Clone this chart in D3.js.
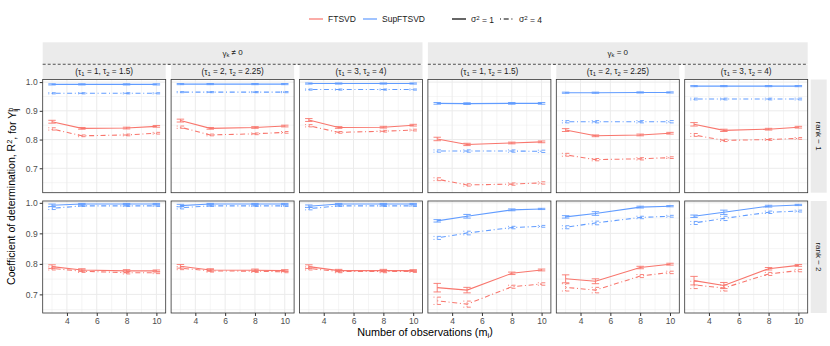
<!DOCTYPE html>
<html>
<head>
<meta charset="utf-8">
<script src="https://cdn.jsdelivr.net/npm/d3@7"></script>
<style>
body { margin: 0; background: #fff; }
svg text { font-family: "Liberation Sans", Arial, sans-serif; }
</style>
</head>
<body>
<div id="chart"></div>
<script>
// ---- data ----
var mValues = [3, 5, 8, 10];
var methods = ["FTSVD", "SupFTSVD"];
var sigmaLabels = ["σ^{2} = 1", "σ^{2} = 4"];
var gammaLabels = ["γ_{k} ≠ 0", "γ_{k} = 0"];
var tauLabels = ["(τ_{1} = 1, τ_{2} = 1.5)", "(τ_{1} = 2, τ_{2} = 2.25)", "(τ_{1} = 3, τ_{2} = 4)"];
var rankLabels = ["rank − 1", "rank − 2"];
var yTicks = [0.7, 0.8, 0.9, 1.0];
var xTicks = [4, 6, 8, 10];

// one row per panel, left to right (gamma != 0: tau 1..3, then gamma = 0: tau 1..3)
var ftsvdS1Rank1 = [[0.862,0.839,0.840,0.846],[0.866,0.839,0.842,0.847],[0.868,0.842,0.843,0.850],
                    [0.802,0.783,0.788,0.792],[0.833,0.813,0.816,0.822],[0.853,0.832,0.836,0.843]];
var ftsvdS4Rank1 = [[0.837,0.813,0.816,0.822],[0.843,0.816,0.820,0.825],[0.848,0.825,0.829,0.833],
                    [0.662,0.642,0.645,0.649],[0.747,0.730,0.733,0.737],[0.816,0.797,0.800,0.804]];
var supS1Rank1 = [[0.992,0.992,0.992,0.992],[0.993,0.993,0.993,0.993],[0.995,0.995,0.995,0.995],
                  [0.926,0.925,0.926,0.926],[0.963,0.963,0.964,0.964],[0.986,0.986,0.986,0.986]];
var supS4Rank1 = [[0.961,0.961,0.961,0.961],[0.965,0.965,0.965,0.965],[0.974,0.974,0.974,0.974],
                  [0.760,0.760,0.760,0.759],[0.862,0.862,0.862,0.862],[0.941,0.941,0.941,0.941]];

var ftsvdS1Rank2 = [[0.791,0.780,0.777,0.777],[0.792,0.780,0.779,0.778],[0.791,0.778,0.778,0.778],
                    [0.722,0.714,0.769,0.780],[0.751,0.743,0.788,0.799],[0.745,0.729,0.784,0.795]];
var ftsvdS4Rank2 = [[0.785,0.776,0.771,0.771],[0.786,0.777,0.776,0.774],[0.785,0.775,0.775,0.775],
                    [0.679,0.668,0.725,0.734],[0.723,0.714,0.760,0.772],[0.731,0.721,0.767,0.778]];
var supS1Rank2 = [[0.992,0.996,0.996,0.996],[0.991,0.996,0.996,0.996],[0.989,0.996,0.996,0.996],
                  [0.941,0.956,0.977,0.980],[0.954,0.965,0.986,0.989],[0.956,0.969,0.989,0.993]];
var supS4Rank2 = [[0.982,0.990,0.990,0.990],[0.984,0.990,0.990,0.990],[0.981,0.990,0.990,0.990],
                  [0.885,0.901,0.919,0.923],[0.920,0.934,0.952,0.956],[0.934,0.949,0.969,0.973]];

// error bar half widths, same layout
var ftsvdS1ErrRank1 = [[0.005,0.003,0.003,0.003],[0.005,0.003,0.003,0.003],[0.005,0.003,0.003,0.003],
                       [0.006,0.004,0.003,0.003],[0.005,0.003,0.003,0.003],[0.006,0.004,0.003,0.003]];
var ftsvdS4ErrRank1 = [[0.004,0.003,0.003,0.003],[0.004,0.003,0.003,0.003],[0.004,0.003,0.003,0.003],
                       [0.005,0.004,0.004,0.004],[0.005,0.004,0.004,0.003],[0.005,0.004,0.003,0.003]];
var supS1ErrRank1 = [[0.002,0.002,0.002,0.002],[0.002,0.002,0.002,0.002],[0.002,0.002,0.002,0.002],
                     [0.003,0.003,0.003,0.003],[0.002,0.002,0.002,0.002],[0.002,0.002,0.002,0.002]];
var supS4ErrRank1 = [[0.002,0.002,0.002,0.002],[0.002,0.002,0.002,0.002],[0.002,0.002,0.002,0.002],
                     [0.004,0.004,0.004,0.004],[0.004,0.004,0.004,0.004],[0.003,0.003,0.003,0.003]];

var ftsvdS1ErrRank2 = [[0.006,0.004,0.004,0.003],[0.006,0.004,0.004,0.003],[0.006,0.004,0.004,0.003],
                       [0.014,0.009,0.004,0.003],[0.013,0.008,0.004,0.003],[0.014,0.010,0.004,0.003]];
var ftsvdS4ErrRank2 = [[0.005,0.004,0.004,0.003],[0.005,0.004,0.004,0.003],[0.005,0.004,0.004,0.003],
                       [0.012,0.010,0.005,0.004],[0.012,0.009,0.005,0.004],[0.012,0.010,0.005,0.004]];
var supS1ErrRank2 = [[0.004,0.002,0.002,0.002],[0.004,0.002,0.002,0.002],[0.004,0.002,0.002,0.002],
                     [0.004,0.006,0.003,0.002],[0.004,0.006,0.003,0.002],[0.004,0.007,0.003,0.002]];
var supS4ErrRank2 = [[0.004,0.002,0.002,0.002],[0.004,0.002,0.002,0.002],[0.004,0.002,0.002,0.002],
                     [0.005,0.006,0.004,0.003],[0.005,0.006,0.004,0.003],[0.005,0.007,0.004,0.003]];

var series = [
  {method: "FTSVD", sigma: 1, vals: [ftsvdS1Rank1, ftsvdS1Rank2], errs: [ftsvdS1ErrRank1, ftsvdS1ErrRank2]},
  {method: "FTSVD", sigma: 4, vals: [ftsvdS4Rank1, ftsvdS4Rank2], errs: [ftsvdS4ErrRank1, ftsvdS4ErrRank2]},
  {method: "SupFTSVD", sigma: 1, vals: [supS1Rank1, supS1Rank2], errs: [supS1ErrRank1, supS1ErrRank2]},
  {method: "SupFTSVD", sigma: 4, vals: [supS4Rank1, supS4Rank2], errs: [supS4ErrRank1, supS4ErrRank2]}
];

// ---- layout ----
var width = 830, height = 346;
var panelW = 123, colStep = 128.4, left0 = 42.7;
var rows = [{top: 79.5, bottom: 192.7, domain: [0.615, 1.009]},
            {top: 201, bottom: 313, domain: [0.639, 1.006]}];
var color = d3.scaleOrdinal().domain(methods).range(["#F8766D", "#619CFF"]);
var dash = {1: null, 4: "1,2.7,5,2.7"};
var txtCol = "#4D4D4D";

var svg = d3.select("#chart").append("svg")
  .attr("width", width).attr("height", height);

// little helper: "a_{b}" -> subscript, "a^{b}" -> superscript
function richText(sel, str) {
  var parts = [], re = /([_^])\{([^}]*)\}/g, last = 0, m;
  while ((m = re.exec(str)) !== null) {
    if (m.index > last) parts.push({t: str.slice(last, m.index), k: ""});
    parts.push({t: m[2], k: m[1]});
    last = re.lastIndex;
  }
  if (last < str.length) parts.push({t: str.slice(last), k: ""});
  var cur = 0, prev = null;
  parts.forEach(function(p) {
    var off = p.k === "^" ? -0.38 : p.k === "_" ? 0.25 : 0;
    var ts = sel.append("tspan").text(p.t)
      .attr("dy", (off - cur) + "em");
    if (p.k) ts.style("font-size", "72%");
    // stack sub right under a sup
    if (p.k === "_" && prev && prev.k === "^") {
      ts.attr("dx", -prev.node.getComputedTextLength());
    }
    cur = off;
    prev = {k: p.k, node: ts.node()};
  });
}

// ---- legend ----
var lg = svg.append("g").attr("transform", "translate(0,19)");
var legItems = [
  {x: 309, col: color("FTSVD"), d: null, label: "FTSVD"},
  {x: 363, col: color("SupFTSVD"), d: null, label: "SupFTSVD"},
  {x: 452, col: "#000", d: null, label: sigmaLabels[0]},
  {x: 500, col: "#000", d: dash[4], label: sigmaLabels[1]}
];
legItems.forEach(function(it) {
  lg.append("line").attr("x1", it.x).attr("x2", it.x + 14).attr("y1", 0).attr("y2", 0)
    .attr("stroke", it.col).attr("stroke-width", 1.2).attr("stroke-dasharray", it.d);
  var t = lg.append("text").attr("x", it.x + 19).attr("y", 3)
    .style("font-size", "8.5px").attr("fill", "#1A1A1A");
  richText(t, it.label);
});

// ---- top strips (gamma groups) ----
for (var g = 0; g < 2; g++) {
  var gx0 = left0 + g * 3 * colStep, gx1 = gx0 + 2 * colStep + panelW;
  svg.append("rect").attr("x", gx0).attr("y", 42.3).attr("width", gx1 - gx0).attr("height", 22)
    .attr("fill", "#EBEBEB");
  svg.append("line").attr("x1", gx0).attr("x2", gx1).attr("y1", 64.3).attr("y2", 64.3)
    .attr("stroke", "#000").attr("stroke-width", 0.8).attr("stroke-dasharray", "3,2");
  var gt = svg.append("text").attr("x", (gx0 + gx1) / 2).attr("y", 56)
    .attr("text-anchor", "middle").style("font-size", "8px").attr("fill", "#1A1A1A");
  richText(gt, gammaLabels[g]);
}

// ---- panels ----
for (var r = 0; r < 2; r++) {
  var row = rows[r];
  var y = d3.scaleLinear().domain(row.domain).range([row.bottom, row.top]);

  for (var c = 0; c < 6; c++) {
    var px = left0 + c * colStep;
    var x = d3.scaleLinear().domain([2.375, 10.625]).range([px, px + panelW]);

    if (r === 0) {
      svg.append("rect").attr("x", px).attr("y", 64.8).attr("width", panelW).attr("height", 14.2)
        .attr("fill", "#EBEBEB");
      var st = svg.append("text").attr("x", px + panelW / 2).attr("y", 74.8)
        .attr("text-anchor", "middle").style("font-size", "8.2px").attr("fill", "#1A1A1A");
      richText(st, tauLabels[c % 3]);
    }

    var p = svg.append("g");
    p.append("rect").attr("x", px).attr("y", row.top).attr("width", panelW)
      .attr("height", row.bottom - row.top).attr("fill", "#fff");

    // grid
    var yMinor = [0.65, 0.75, 0.85, 0.95].filter(function(v) { return v > row.domain[0] && v < row.domain[1]; });
    p.selectAll(null).data(yMinor).enter().append("line")
      .attr("x1", px).attr("x2", px + panelW).attr("y1", y).attr("y2", y)
      .attr("stroke", "#EBEBEB").attr("stroke-width", 0.5);
    p.selectAll(null).data([3, 5, 7, 9]).enter().append("line")
      .attr("y1", row.top).attr("y2", row.bottom).attr("x1", x).attr("x2", x)
      .attr("stroke", "#EBEBEB").attr("stroke-width", 0.5);
    p.selectAll(null).data(yTicks).enter().append("line")
      .attr("x1", px).attr("x2", px + panelW).attr("y1", y).attr("y2", y)
      .attr("stroke", "#EBEBEB").attr("stroke-width", 1);
    p.selectAll(null).data(xTicks).enter().append("line")
      .attr("y1", row.top).attr("y2", row.bottom).attr("x1", x).attr("x2", x)
      .attr("stroke", "#EBEBEB").attr("stroke-width", 1);

    // series
    series.forEach(function(s) {
      var vals = s.vals[r][c], errs = s.errs[r][c];
      var pts = mValues.map(function(m, i) { return {m: m, v: vals[i], e: errs[i]}; });
      var col = color(s.method);
      p.append("path").datum(pts)
        .attr("d", d3.line().x(function(d) { return x(d.m); }).y(function(d) { return y(d.v); }))
        .attr("fill", "none").attr("stroke", col).attr("stroke-width", 1.1)
        .attr("stroke-dasharray", dash[s.sigma]);
      var eb = p.selectAll(null).data(pts).enter().append("g")
        .attr("stroke", col).attr("stroke-width", 0.9).attr("fill", "none");
      eb.append("line").attr("x1", function(d) { return x(d.m); }).attr("x2", function(d) { return x(d.m); })
        .attr("y1", function(d) { return y(d.v - d.e); }).attr("y2", function(d) { return y(d.v + d.e); })
        .attr("stroke-dasharray", s.sigma === 4 ? "1,1" : null);
      [-1, 1].forEach(function(sgn) {
        eb.append("line")
          .attr("x1", function(d) { return x(d.m - 0.25); }).attr("x2", function(d) { return x(d.m + 0.25); })
          .attr("y1", function(d) { return y(d.v + sgn * d.e); }).attr("y2", function(d) { return y(d.v + sgn * d.e); })
          .attr("stroke-dasharray", dash[s.sigma]);
      });
    });

    p.append("rect").attr("x", px).attr("y", row.top).attr("width", panelW)
      .attr("height", row.bottom - row.top).attr("fill", "none")
      .attr("stroke", "#333333").attr("stroke-width", 0.8);

    // axes
    if (c === 0) {
      var ya = svg.append("g").attr("transform", "translate(" + px + ",0)")
        .call(d3.axisLeft(y).tickValues(yTicks).tickFormat(d3.format(".1f")).tickSize(3).tickPadding(2));
      ya.select(".domain").remove();
      ya.selectAll("line").attr("stroke", "#333333");
      ya.selectAll("text").attr("fill", txtCol).style("font-size", "8.5px");
    }
    if (r === 1) {
      var xa = svg.append("g").attr("transform", "translate(0," + row.bottom + ")")
        .call(d3.axisBottom(x).tickValues(xTicks).tickSize(3).tickPadding(2));
      xa.select(".domain").remove();
      xa.selectAll("line").attr("stroke", "#333333");
      xa.selectAll("text").attr("fill", txtCol).style("font-size", "8.5px");
    }
  }

  // right strip
  var rx = left0 + 5 * colStep + panelW + 3;
  svg.append("rect").attr("x", rx).attr("y", row.top).attr("width", 16)
    .attr("height", row.bottom - row.top).attr("fill", "#EBEBEB");
  svg.append("text")
    .attr("transform", "translate(" + (rx + 5) + "," + ((row.top + row.bottom) / 2) + ") rotate(90)")
    .attr("text-anchor", "middle").style("font-size", "8px").attr("fill", "#1A1A1A")
    .text(rankLabels[r]);
}

// ---- axis titles ----
var xt = svg.append("text").attr("x", 425).attr("y", 336).attr("text-anchor", "middle")
  .style("font-size", "10.8px").attr("fill", "#000");
richText(xt, "Number of observations (m_{i})");

var yt = svg.append("text")
  .attr("transform", "translate(15," + ((rows[0].top + rows[1].bottom) / 2) + ") rotate(-90)")
  .attr("text-anchor", "middle").style("font-size", "10.5px").attr("fill", "#000");
richText(yt, "Coefficient of determination, R^{2}, for Y^{b}_{ij}");
</script>
</body>
</html>
